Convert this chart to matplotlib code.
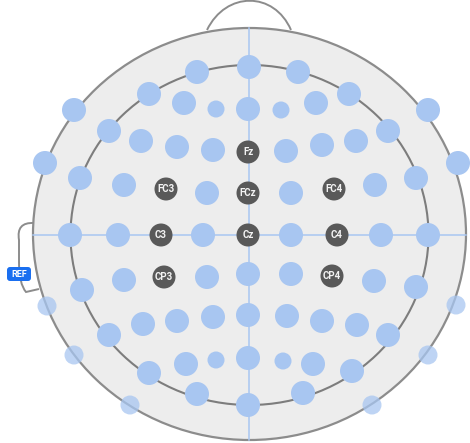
import matplotlib
matplotlib.use("Agg")
from matplotlib import pyplot as plt
from matplotlib.patches import Ellipse, Circle, PathPatch, FancyBboxPatch
from matplotlib.path import Path

# electrode positions (pixel coords of a 470x443 canvas, y downward)
main_x = [197, 149, 184, 74, 109, 141, 177, 213, 45, 80, 124, 207,
          249, 298, 349, 428, 248, 316, 388, 458, 286, 322, 356, 416, 375, 291,
          70, 118, 203, 291, 381, 428,
          124, 207, 82, 109, 143, 177, 213, 149, 186, 197,
          248, 291, 374, 416, 248, 287, 322, 357, 388, 248, 313, 352, 303, 248]
main_y = [72, 94, 103, 110, 131, 141, 147, 150, 163, 178, 185, 193,
          67, 72, 94, 110, 109, 103, 131, 163, 151, 145, 141, 178, 185, 193,
          235, 235, 235, 235, 235, 235,
          280, 277, 290, 335, 324, 321, 317, 373, 364, 394,
          274, 274, 281, 287, 315, 316, 321, 325, 335, 358, 364, 371, 393, 405]
small_x = [216, 281, 216, 283]
small_y = [109, 110, 360, 361]
rim_x = [47, 74, 130, 456, 428, 372]
rim_y = [306, 355, 405, 305, 355, 405]

labels = ["Fz", "FC3", "FCz", "FC4", "C3", "Cz", "C4", "CP3", "CP4"]
label_x = [248, 166, 248, 334, 161, 248, 337, 164, 332]
label_y = [152, 189, 193, 189, 235, 235, 235, 277, 276]

blue = "#a8c6f1"
line_grey = "#8c8c8c"

fig = plt.figure(figsize=(4.7, 4.43), dpi=100)
ax = fig.add_axes([0, 0, 1, 1])
ax.set_xlim(0, 470)
ax.set_ylim(443, 0)
ax.axis("off")

# nose
nose = Path([(207, 30), (226, -9), (274, -9), (291, 30)],
            [Path.MOVETO, Path.CURVE4, Path.CURVE4, Path.CURVE4])
ax.add_patch(PathPatch(nose, fill=False, ec=line_grey, lw=1.4, zorder=1))

# ear
ear = Path([(34, 223), (16, 222), (19, 240), (19, 262), (19, 284), (26, 292), (39, 289)],
           [Path.MOVETO, Path.CURVE3, Path.CURVE3, Path.LINETO, Path.CURVE3, Path.CURVE3, Path.LINETO])
ax.add_patch(PathPatch(ear, fill=False, ec=line_grey, lw=1.4, zorder=1))

# head
ax.add_patch(Ellipse((249.5, 234), 433, 412, fc="#ededed", ec=line_grey, lw=1.6, zorder=2))
ax.add_patch(Ellipse((249.5, 235), 358, 340, fill=False, ec="#7d7d7d", lw=1.5, zorder=3))

# crosshair
ax.plot([249, 249], [28, 440], color=blue, lw=1.1, zorder=3)
ax.plot([33, 466], [235, 235], color=blue, lw=1.1, zorder=3)

for x, y in zip(main_x, main_y):
    ax.add_patch(Circle((x, y), 12, fc=blue, ec="none", zorder=4))
for x, y in zip(small_x, small_y):
    ax.add_patch(Circle((x, y), 8.5, fc=blue, ec="none", zorder=4))
for x, y in zip(rim_x, rim_y):
    ax.add_patch(Circle((x, y), 9.5, fc=blue, ec="none", alpha=0.75, zorder=4))

for lab, x, y in zip(labels, label_x, label_y):
    ax.add_patch(Circle((x, y), 11.5, fc="#595959", ec="none", zorder=5))
    ax.text(x, y, lab, color="#f2f2f2", fontsize=7, ha="center", va="center",
            family="Roboto", fontweight="bold", zorder=6)

# REF tag
ax.add_patch(FancyBboxPatch((7, 267), 24, 14, boxstyle="round,pad=0,rounding_size=3",
                            fc="#1a6ff0", ec="none", zorder=6))
ax.text(19, 274.5, "REF", color="white", fontsize=6.5, ha="center", va="center",
        family="Roboto", fontweight="bold", zorder=7)

fig.savefig("out.png", dpi=100, facecolor="white")
